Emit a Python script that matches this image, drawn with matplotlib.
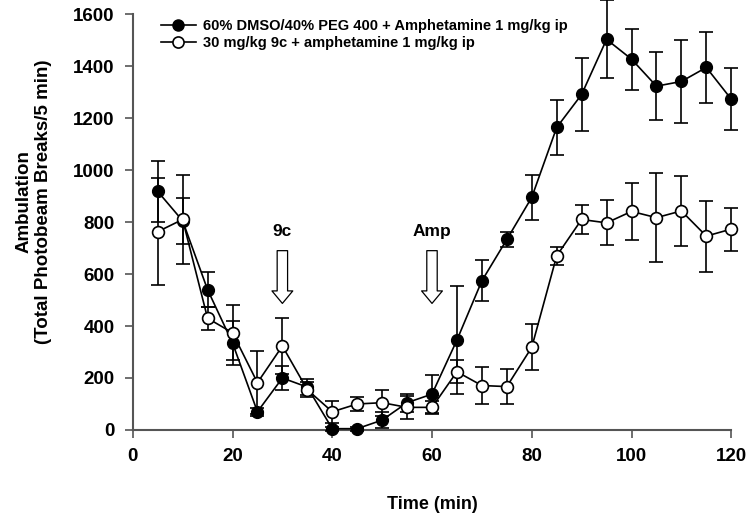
import matplotlib
matplotlib.use("Agg")
import matplotlib.pyplot as plt
from matplotlib.lines import Line2D

time = [5, 10, 15, 20, 25, 30, 35, 40, 45, 50, 55, 60, 65, 70, 75, 80, 85, 90, 95, 100, 105, 110, 115, 120]
veh_mean = [918, 805, 540, 335, 70, 200, 165, 5, 5, 38, 105, 138, 346, 574, 733, 895, 1164, 1291, 1503, 1427, 1323, 1341, 1395, 1273]
veh_err = [116, 88, 66, 84, 15, 45, 30, 8, 8, 32, 35, 73, 208, 79, 28, 87, 105, 140, 150, 117, 131, 160, 137, 118]
drug_mean = [763, 810, 430, 374, 182, 323, 155, 70, 100, 105, 87, 87, 224, 171, 167, 318, 670, 810, 797, 841, 817, 843, 746, 773]
drug_err = [205, 170, 45, 105, 120, 107, 30, 43, 28, 50, 45, 25, 45, 72, 66, 88, 35, 57, 87, 110, 170, 134, 137, 83]

label_veh = "60% DMSO/40% PEG 400 + Amphetamine 1 mg/kg ip"
label_drug = "30 mg/kg 9c + amphetamine 1 mg/kg ip"
x_ticks = [0, 20, 40, 60, 80, 100, 120]
y_ticks = [0, 200, 400, 600, 800, 1000, 1200, 1400, 1600]

plt.rcParams['font.family'] = ['Liberation Sans', 'DejaVu Sans']
plt.rcParams['font.weight'] = 'bold'

fig = plt.figure(figsize=(7.5, 5.25), dpi=100)
ax = fig.add_axes([0.177, 0.181, 0.798, 0.792])

ax.errorbar(time, veh_mean, yerr=veh_err, color='black', marker='o', markersize=8.5,
            markerfacecolor='black', markeredgecolor='black', linewidth=1.2,
            elinewidth=1.2, capsize=5, capthick=1.2, zorder=3, clip_on=False)
ax.errorbar(time, drug_mean, yerr=drug_err, color='black', marker='o', markersize=8.5,
            markerfacecolor='white', markeredgecolor='black', markeredgewidth=1.2,
            linewidth=1.2, elinewidth=1.2, capsize=5, capthick=1.2,
            zorder=4, clip_on=False)

ax.set_xlim(0, 120)
ax.set_ylim(0, 1600)
ax.set_xticks(x_ticks)
ax.set_yticks(y_ticks)
ax.spines['top'].set_visible(False)
ax.spines['right'].set_visible(False)
ax.spines['left'].set_color('#555555')
ax.spines['bottom'].set_color('#555555')
ax.spines['left'].set_linewidth(1.5)
ax.spines['bottom'].set_linewidth(1.5)
ax.tick_params(direction='out', length=6, width=1.2, color='#555555', labelsize=13.5, pad=7)
for lab in ax.get_xticklabels() + ax.get_yticklabels():
    lab.set_fontweight('bold')

ax.set_xlabel("Time (min)", fontsize=13, fontweight='bold', labelpad=22)
ax.set_ylabel("Ambulation\n(Total Photobeam Breaks/5 min)", fontsize=13.5, fontweight='bold', labelpad=14)
ax.yaxis.set_label_coords(-0.135, 0.55)

arrow_style = "simple,head_length=0.9,head_width=1.5,tail_width=0.75"
for xpos, txt in [(30, "9c"), (60, "Amp")]:
    ax.annotate("", xy=(xpos, 487), xytext=(xpos, 690),
                arrowprops=dict(arrowstyle=arrow_style, fc='white', ec='black', lw=0.9,
                                mutation_scale=10, shrinkA=0, shrinkB=0))
    ax.text(xpos, 765, txt, ha='center', va='center', fontsize=12.5, fontweight='bold')

handles = [
    Line2D([], [], color='black', marker='o', markersize=8, markerfacecolor='black', linewidth=1.2),
    Line2D([], [], color='black', marker='o', markersize=8, markerfacecolor='white',
           markeredgewidth=1.2, linewidth=1.2),
]
leg = ax.legend(handles, [label_veh, label_drug], loc='upper left', bbox_to_anchor=(0.025, 1.02),
                frameon=False, prop={'size': 10.5, 'weight': 'bold'}, handlelength=2.4,
                labelspacing=0.2, handletextpad=0.5)

fig.savefig("out.png", dpi=100)
